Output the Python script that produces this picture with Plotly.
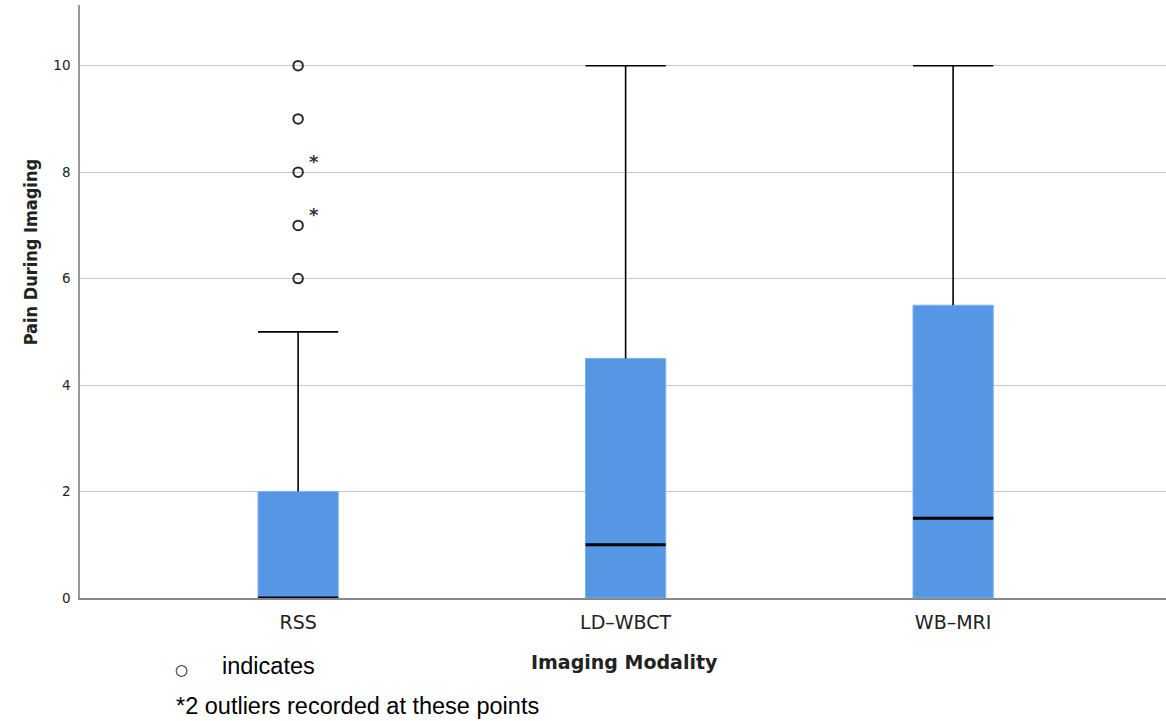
import plotly.graph_objects as go

categories = ["RSS", "LD\u2013WBCT", "WB\u2013MRI"]
q1 = [0, 0, 0]
median = [0, 1, 1.5]
q3 = [2, 4.5, 5.5]
upper_fence = [5, 10, 10]
outliers_rss = [6, 7, 8, 9, 10]
starred_rss = [7, 8]
y_ticks = [0, 2, 4, 6, 8, 10]

BOX_W = 0.245
xpos = list(range(len(categories)))
fig = go.Figure()

# box bodies
fig.add_trace(go.Bar(
    x=xpos, y=[b - a for a, b in zip(q1, q3)], base=q1, width=BOX_W,
    marker=dict(color="#5597E5", line=dict(color="#7FB0EC", width=1)),
    showlegend=False, hoverinfo="skip"))

# whiskers and caps
wx, wy = [], []
for i in xpos:
    wx += [i, i, None, i - BOX_W / 2, i + BOX_W / 2, None]
    wy += [q3[i], upper_fence[i], None, upper_fence[i], upper_fence[i], None]
fig.add_trace(go.Scatter(x=wx, y=wy, mode="lines",
                         line=dict(color="black", width=1.6),
                         showlegend=False, hoverinfo="skip"))

# medians
mx, my = [], []
for i in xpos:
    mx += [i - BOX_W / 2, i + BOX_W / 2, None]
    my += [median[i], median[i], None]
fig.add_trace(go.Scatter(x=mx, y=my, mode="lines",
                         line=dict(color="black", width=3),
                         showlegend=False, hoverinfo="skip"))

# outliers
fig.add_trace(go.Scatter(
    x=[0] * len(outliers_rss), y=outliers_rss, mode="markers",
    marker=dict(symbol="circle-open", size=9.5, color="#2a2a2a",
                line=dict(width=2)),
    showlegend=False, hoverinfo="skip"))

annotations = []
for v in starred_rss:
    annotations.append(dict(x=0, y=v, xref="x", yref="y", text="<b>*</b>",
                            showarrow=False, xshift=16, yshift=11,
                            font=dict(family="DejaVu Sans", size=18, color="#333333")))

PH = 593.0  # plot height in px, for placing footnotes below the axis
annotations += [
    dict(x=0.501, y=-0.108, xref="paper", yref="paper", yanchor="middle",
         text="<b>Imaging Modality</b>", showarrow=False,
         font=dict(family="DejaVu Sans", size=19, color="#222")),
    dict(x=-0.0575, y=0.583, xref="paper", yref="paper", textangle=-90,
         text="<b>Pain During Imaging</b>", showarrow=False,
         font=dict(family="DejaVu Sans Condensed, DejaVu Sans", size=18, color="#222")),
    dict(x=0.0, y=-(670 - 598) / PH, xref="paper", yref="paper", xanchor="center", yanchor="middle",
         xshift=181 - 80, text="\u25cb", showarrow=False,
         font=dict(family="DejaVu Sans", size=15, color="black")),
    dict(x=0.0, y=-(666 - 598) / PH, xref="paper", yref="paper", xanchor="left", yanchor="middle",
         xshift=220 - 80, text="indicates", showarrow=False,
         font=dict(family="Liberation Sans", size=23.5, color="black")),
    dict(x=0.0, y=-(706 - 598) / PH, xref="paper", yref="paper", xanchor="left", yanchor="middle",
         xshift=174 - 80, text="*2 outliers recorded at these points", showarrow=False,
         font=dict(family="Liberation Sans", size=23.5, color="black")),
]

fig.update_layout(
    width=1166, height=721,
    margin=dict(l=80, r=0, t=5, b=123),
    plot_bgcolor="white", paper_bgcolor="white",
    xaxis=dict(range=[-0.666, 2.65], tickvals=xpos, ticktext=categories,
               showgrid=False, zeroline=False, showline=True, linecolor="#888888",
               linewidth=1.5, ticks="", ticklabelstandoff=6,
               tickfont=dict(family="DejaVu Sans", size=19, color="#222")),
    yaxis=dict(range=[0, 11.14], tickvals=y_ticks, showgrid=True, gridcolor="#c8c8c8",
               gridwidth=1.2, zeroline=False, showline=True, linecolor="#999999",
               linewidth=1.5, ticks="", ticklabelstandoff=5,
               tickfont=dict(family="DejaVu Sans", size=13.5, color="#222")),
    annotations=annotations,
)

fig.write_html("out.html")
